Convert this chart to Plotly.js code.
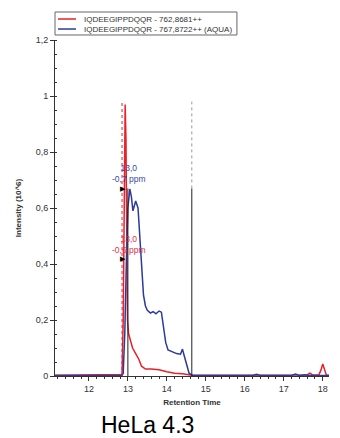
<!DOCTYPE html>
<html><head><meta charset="utf-8">
<script src="https://cdn.plot.ly/plotly-3.0.1.min.js"></script>
<style>body{margin:0;background:#fff}#c{width:340px;height:438px}</style>
</head><body><div id="c"></div>
<script>
// Retention time (min) and intensity (10^6)
const redTime = [11.13,11.5,12.0,12.5,12.80,12.85,12.88,12.91,12.93,12.95,12.97,12.99,13.02,13.07,13.12,13.2,13.28,13.35,13.45,13.6,13.8,14.0,14.2,14.4,14.6,15.0,15.5,16.0,16.5,17.0,17.5,17.6,17.67,17.74,17.9,17.95,18.0,18.05,18.09,18.16];
const redInt  = [0.003,0.003,0.003,0.003,0.003,0.005,0.2,0.75,0.97,0.85,0.4,0.2,0.15,0.12,0.10,0.08,0.06,0.035,0.025,0.025,0.022,0.015,0.01,0.008,0.004,0.003,0.003,0.003,0.003,0.003,0.003,0.004,0.01,0.004,0.004,0.02,0.043,0.025,0.004,0.003];
const blueTime = [11.13,12.0,12.85,12.88,12.92,12.96,13.0,13.05,13.09,13.13,13.2,13.26,13.3,13.35,13.4,13.45,13.5,13.58,13.65,13.72,13.8,13.86,13.92,13.97,14.03,14.15,14.25,14.35,14.4,14.44,14.5,14.57,14.65,15.0,16.2,16.3,16.4,17.2,17.3,17.4,17.55,17.65,18.16];
const blueInt  = [0.002,0.002,0.002,0.01,0.15,0.4,0.6,0.668,0.64,0.59,0.625,0.6,0.5,0.38,0.29,0.25,0.235,0.225,0.23,0.222,0.232,0.228,0.175,0.12,0.093,0.085,0.08,0.078,0.096,0.075,0.04,0.01,0.003,0.002,0.002,0.006,0.002,0.002,0.007,0.002,0.004,0.002,0.002];
const seriesNames = ['IQDEEGIPPDQQR - 762,8681++','IQDEEGIPPDQQR - 767,8722++ (AQUA)'];
const seriesColors = ['#e8202a','#2c3a9c'];
const boundaryLeft = 13.0, boundaryRight = 14.64, boundaryTop = 0.67, apexRed = 12.85;
const labelBlue = ['13,0','-0,7 ppm'], labelRed = ['13,0','-0,6 ppm'];
const labelBlueY = 0.68, labelRedY = 0.425, labelX = 13.03;
const arrowBlueY = 0.67, arrowRedY = 0.418, arrowX = 12.99;

const FONT = 'Arial, "Liberation Sans", sans-serif';
const traces = [
  {x: redTime, y: redInt, name: seriesNames[0], mode:'lines', line:{color:seriesColors[0], width:1.5}},
  {x: blueTime, y: blueInt, name: seriesNames[1], mode:'lines', line:{color:seriesColors[1], width:1.5}}
];
// custom compact legend (paper coords)
const legShapes = [
  {type:'rect', xref:'paper', yref:'paper', x0:0, x1:0.664, y0:1.0149, y1:1.0833, line:{color:'#666', width:1}, fillcolor:'#fff'},
  {type:'line', xref:'paper', yref:'paper', x0:0.011, x1:0.0766, y0:1.0625, y1:1.0625, line:{color:seriesColors[0], width:1.5}},
  {type:'line', xref:'paper', yref:'paper', x0:0.011, x1:0.0766, y0:1.0327, y1:1.0327, line:{color:seriesColors[1], width:1.5}}
];
const legAnn = [
  {x:0.0985, y:1.0625, xref:'paper', yref:'paper', xanchor:'left', yanchor:'middle', showarrow:false, text:seriesNames[0], font:{size:8, color:'#333'}},
  {x:0.0985, y:1.0327, xref:'paper', yref:'paper', xanchor:'left', yanchor:'middle', showarrow:false, text:seriesNames[1], font:{size:8, color:'#333'}}
];
const layout = {
  width:340, height:438,
  margin:{l:55, r:11, t:40, b:62},
  paper_bgcolor:'#fff', plot_bgcolor:'#fff',
  separators:', ',
  font:{family:FONT, size:9, color:'#333'},
  showlegend:false,
  xaxis:{range:[11.13,18.16], tickvals:[12,13,14,15,16,17,18], ticks:'outside', ticklen:4,
         tickcolor:'#333', showline:true, linecolor:'#333', linewidth:1, showgrid:false, zeroline:false,
         minor:{dtick:0.2, tick0:0, ticks:'outside', ticklen:2, tickcolor:'#333'},
         tickfont:{size:9, color:'#333'},
         title:{text:'<b>Retention Time</b>', font:{size:8, color:'#333'}, standoff:6}},
  yaxis:{range:[0,1.2], tickvals:[0,0.2,0.4,0.6,0.8,1,1.2], ticktext:['0','0,2','0,4','0,6','0,8','1','1,2'],
         ticks:'outside', ticklen:4, tickcolor:'#333', showline:true, linecolor:'#333', linewidth:1,
         showgrid:false, zeroline:false,
         minor:{dtick:0.05, tick0:0, ticks:'inside', ticklen:2, tickcolor:'#333'},
         tickfont:{size:9, color:'#333'},
         title:{text:'<b>Intensity (10^6)</b>', font:{size:8, color:'#333'}, standoff:12}},
  shapes:[
    {type:'line', xref:'x', yref:'y', x0:apexRed, x1:apexRed, y0:0, y1:0.98, line:{color:'#e8202a', width:1, dash:'dot'}},
    {type:'line', xref:'x', yref:'y', x0:boundaryLeft, x1:boundaryLeft, y0:0, y1:boundaryTop, line:{color:'#222', width:1}},
    {type:'line', xref:'x', yref:'y', x0:boundaryRight, x1:boundaryRight, y0:0, y1:boundaryTop, line:{color:'#222', width:1}},
    {type:'line', xref:'x', yref:'y', x0:boundaryRight, x1:boundaryRight, y0:boundaryTop, y1:0.98, line:{color:'#999', width:1, dash:'dot'}}
  ].concat(legShapes),
  annotations:[
    {x:labelX, y:labelBlueY, xref:'x', yref:'y', text:labelBlue.join('<br>'), showarrow:false, yanchor:'bottom',
     font:{size:8.5, color:'#3a48a8'}},
    {x:labelX, y:labelRedY, xref:'x', yref:'y', text:labelRed.join('<br>'), showarrow:false, yanchor:'bottom',
     font:{size:8.5, color:'#e0304a'}},
    {x:arrowX, y:arrowBlueY, xref:'x', yref:'y', text:'▶', showarrow:false, xanchor:'right', yanchor:'middle', font:{size:7, color:'#000'}},
    {x:arrowX, y:arrowRedY, xref:'x', yref:'y', text:'▶', showarrow:false, xanchor:'right', yanchor:'middle', font:{size:7, color:'#000'}},
    {x:0.339, y:0, xref:'paper', yref:'paper', yshift:-49, yanchor:'middle', showarrow:false,
     text:'HeLa 4.3', font:{size:23, color:'#000', family:FONT}}
  ].concat(legAnn)
};
Plotly.newPlot('c', traces, layout, {displayModeBar:false, staticPlot:true});
</script></body></html>
